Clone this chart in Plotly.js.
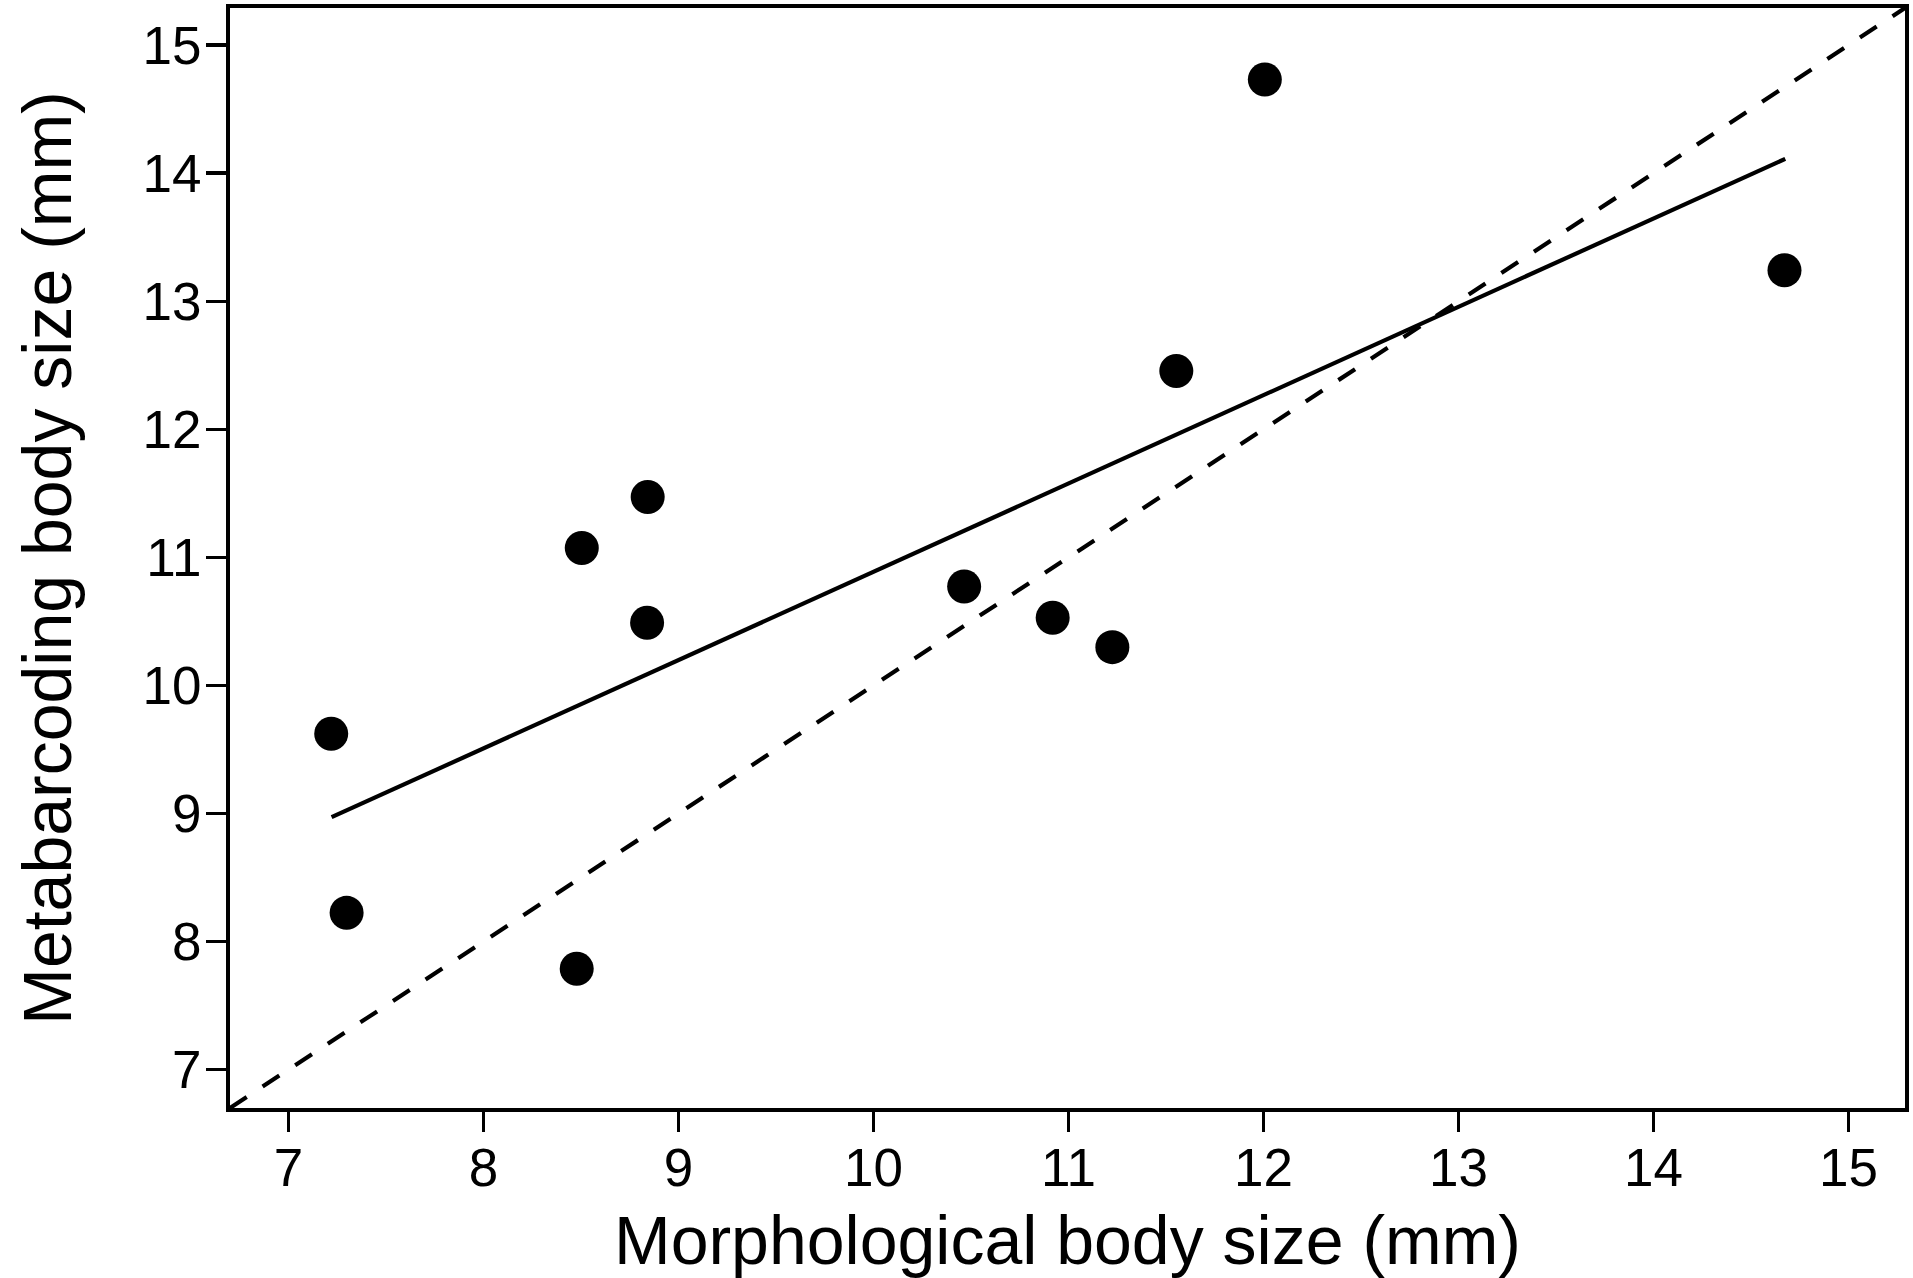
<!DOCTYPE html>
<html>
<head>
<meta charset="utf-8">
<script src="https://cdn.plot.ly/plotly-3.0.1.min.js"></script>
<style>html,body{margin:0;padding:0;background:#fff;}#chart{width:1913px;height:1278px;}</style>
</head>
<body>
<div id="chart"></div>
<script>
// Observed points: morphological vs metabarcoding body size (mm)
const morphSize = [7.219, 7.298, 8.478, 8.504, 8.842, 8.839, 10.465, 10.919, 11.225, 11.553, 12.007, 14.672];
const metaSize  = [9.623, 8.224, 7.787, 11.073, 11.471, 10.490, 10.773, 10.529, 10.299, 12.455, 14.732, 13.242];

// Fitted regression line (end points)
const fitX = [7.221, 14.676];
const fitY = [8.971, 14.112];

// 1:1 reference line
const oneToOneX = [6.70, 15.29];
const oneToOneY = [6.70, 15.29];

const tickValues = [7, 8, 9, 10, 11, 12, 13, 14, 15];
const tickLabels = ["7", "8", "9", "10", "11", "12", "13", "14", "15"];

const axisRange = [6.70, 15.29];
const FONT = "Liberation Sans, Arial, Helvetica, sans-serif";

const traces = [
  {x: oneToOneX, y: oneToOneY, mode: "lines", type: "scatter",
   line: {color: "#000", width: 4.2, dash: "20px,19px"}, hoverinfo: "skip"},
  {x: fitX, y: fitY, mode: "lines", type: "scatter",
   line: {color: "#000", width: 4.2}, hoverinfo: "skip"},
  {x: morphSize, y: metaSize, mode: "markers", type: "scatter",
   marker: {color: "#000", size: 34, line: {width: 0}}}
];

const axisCommon = {
  range: axisRange,
  tickmode: "array",
  tickvals: tickValues,
  ticktext: tickLabels,
  ticks: "outside",
  ticklen: 20,
  tickwidth: 3.5,
  tickcolor: "#000",
  showline: true,
  linecolor: "#000",
  linewidth: 4,
  mirror: true,
  showgrid: false,
  zeroline: false,
  tickfont: {family: FONT, size: 53, color: "#000"},
  automargin: false
};

const layout = {
  width: 1913,
  height: 1278,
  margin: {l: 229.5, r: 8, t: 8, b: 170, pad: 0},
  paper_bgcolor: "#fff",
  plot_bgcolor: "#fff",
  showlegend: false,
  font: {family: FONT, color: "#000"},
  xaxis: Object.assign({}, axisCommon, {
    ticklabelstandoff: -10,
    title: {text: "Morphological body size (mm)", font: {family: FONT, size: 68, color: "#000"}, standoff: 28}
  }),
  yaxis: Object.assign({}, axisCommon, {
    ticklabelstandoff: -6,
    title: {text: "Metabarcoding body size (mm)", font: {family: FONT, size: 68, color: "#000"}, standoff: 50}
  })
};

Plotly.newPlot("chart", traces, layout, {staticPlot: true, displayModeBar: false});
</script>
</body>
</html>
